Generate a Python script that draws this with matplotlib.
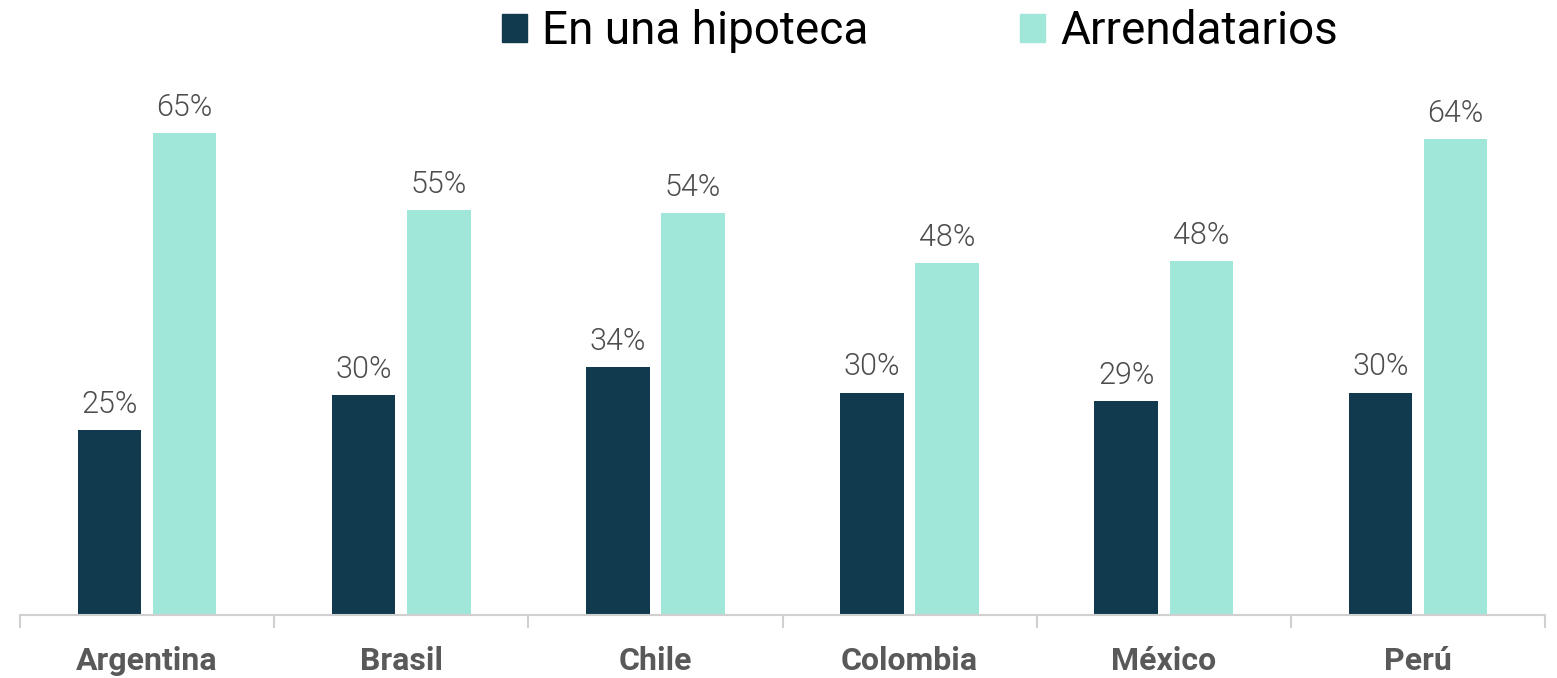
import numpy as np
import matplotlib.pyplot as plt
from matplotlib.patches import Patch

countries = ['Argentina', 'Brasil', 'Chile', 'Colombia', 'México', 'Perú']
hipoteca = [25.0, 29.7, 33.5, 30.0, 28.9, 30.0]
arrendatarios = [65.0, 54.6, 54.2, 47.5, 47.7, 64.2]
series_names = ['En una hipoteca', 'Arrendatarios']

DARK = '#123A4E'
MINT = '#A0E6D9'
GREY = '#595959'

plt.rcParams['font.family'] = ['Roboto', 'DejaVu Sans']

fig = plt.figure(figsize=(15.57, 6.78), dpi=100)
ax = fig.add_axes([20 / 1557, 1 - 615 / 678, 1525 / 1557, 519 / 678])

x = np.arange(len(countries))
w = 0.25
b1 = ax.bar(x - 0.148, hipoteca, w, color=DARK)
b2 = ax.bar(x + 0.148, arrendatarios, w, color=MINT)

for bars, vals in ((b1, hipoteca), (b2, arrendatarios)):
    for rect, v in zip(bars, vals):
        ax.annotate(f'{round(v)}%', (rect.get_x() + rect.get_width() / 2, v),
                    xytext=(0, 8), textcoords='offset points',
                    ha='center', va='bottom', fontsize=22, fontweight=300,
                    color='#4D4D4D')

ax.set_xlim(-0.5, len(countries) - 0.5)
ax.set_ylim(0, 70)
ax.set_yticks([])
for s in ('top', 'right', 'left'):
    ax.spines[s].set_visible(False)
ax.spines['bottom'].set_color('#D0D0D0')
ax.spines['bottom'].set_linewidth(1.5)

ax.set_xticks(x)
ax.set_xticklabels(countries, fontsize=23, fontweight='bold', color=GREY)
ax.tick_params(axis='x', which='major', length=0, pad=22)
ax.set_xticks(np.arange(-0.5, len(countries)), minor=True)
ax.tick_params(axis='x', which='minor', length=9.5, width=1.5, color='#D0D0D0')

handles = [Patch(color=DARK), Patch(color=MINT)]
fig.legend(handles, series_names, loc='center', bbox_to_anchor=(920 / 1557, 1 - 31 / 678),
           ncol=2, frameon=False, fontsize=33, handlelength=0.55, handleheight=0.55,
           handletextpad=0.33, columnspacing=3.3, borderpad=0)

fig.savefig('out.png', dpi=100)
